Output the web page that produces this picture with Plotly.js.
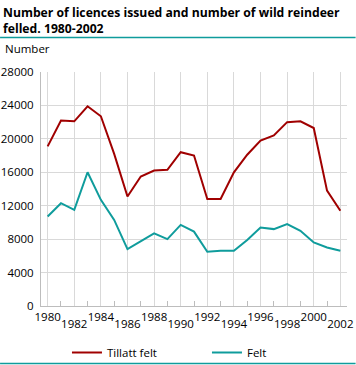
<!DOCTYPE html>
<html><head><meta charset="utf-8">
<script src="https://cdn.plot.ly/plotly-3.0.1.min.js"></script>
<style>html,body{margin:0;padding:0;background:#fff}#c{width:356px;height:365px}</style>
</head><body><div id="c"></div>
<script>
const years = [1980,1981,1982,1983,1984,1985,1986,1987,1988,1989,1990,1991,1992,1993,1994,1995,1996,1997,1998,1999,2000,2001,2002];
const tillattFelt = [19100,22200,22100,23900,22700,18200,13100,15500,16200,16300,18400,18000,12800,12800,16000,18100,19800,20400,22000,22100,21300,13800,11400];
const felt = [10700,12300,11500,16000,12700,10300,6800,7700,8700,8000,9700,8900,6500,6600,6600,7900,9400,9200,9800,9000,7600,7000,6600];
const upperTicks = [1980,1984,1988,1992,1996,2000];
const lowerTicks = [1982,1986,1990,1994,1998,2002];
const yTicks = [0,4000,8000,12000,16000,20000,24000,28000];

const F = '"Open Sans", "DejaVu Sans", sans-serif';
const grid = '#d9d9d9';
const xr = [1979.5, 2002.5];

const traces = [
  {x: years, y: tillattFelt, name: 'Tillatt felt', type: 'scatter', mode: 'lines',
   line: {color: '#a00000', width: 2}, xaxis: 'x', yaxis: 'y'},
  {x: years, y: felt, name: 'Felt', type: 'scatter', mode: 'lines',
   line: {color: '#0f9c9c', width: 2}, xaxis: 'x2', yaxis: 'y'}
];

const L = 41, R = 347.4, T = 72, B = 306;
const W = R - L, H = B - T;
const px = X => (X - L) / W;
const py = Y => (B - Y) / H;

const layout = {
  width: 356, height: 365,
  margin: {l: L, r: 356 - R, t: T, b: 365 - B, pad: 0, autoexpand: false},
  paper_bgcolor: '#fff', plot_bgcolor: '#fff',
  font: {family: F, size: 11, color: '#000'},
  xaxis: {range: xr, tickmode: 'array', tickvals: upperTicks, ticktext: upperTicks.map(String),
          showgrid: true, gridcolor: grid, gridwidth: 1, zeroline: false,
          showline: true, linecolor: '#bdbdbd', linewidth: 1, ticks: '', ticklabelstandoff: 0,
          tickfont: {family: F, size: 11.5},
          minor: {tickmode: 'array', tickvals: [1981,1983,1985,1987,1989,1991,1993,1995,1997,1999,2001],
                  ticks: 'inside', ticklen: 5, tickcolor: '#bdbdbd', showgrid: false}},
  xaxis2: {range: xr, overlaying: 'x', anchor: 'y', side: 'bottom', tickmode: 'array', tickvals: lowerTicks,
           ticktext: lowerTicks.map(String), showgrid: true, gridcolor: grid, gridwidth: 1, zeroline: false,
           showline: false, ticks: '', ticklabelstandoff: 9, tickfont: {family: F, size: 11.5}},
  yaxis: {range: [0, 28000], tickmode: 'array', tickvals: yTicks, ticktext: yTicks.map(String),
          showgrid: true, gridcolor: grid, gridwidth: 1, zeroline: false,
          showline: true, linecolor: '#bdbdbd', linewidth: 1, ticks: '', ticklabelstandoff: 4,
          tickfont: {family: F, size: 11.5}},
  showlegend: true,
  legend: {orientation: 'h', x: px(67), xanchor: 'left', y: py(338), yanchor: 'top',
           font: {family: F, size: 11.5}, entrywidth: 95, entrywidthmode: 'pixels',
           bgcolor: 'rgba(0,0,0,0)'},
  annotations: [
    {text: '<b>Number of licences issued and number of wild reindeer<br>felled. 1980-2002</b>',
     xref: 'paper', yref: 'paper', x: px(1), y: py(2), xanchor: 'left', yanchor: 'top', align: 'left',
     showarrow: false, font: {family: F, size: 12.2, color: '#000'}},
    {text: 'Number', xref: 'paper', yref: 'paper', x: px(3), y: py(49), xanchor: 'left', yanchor: 'middle',
     showarrow: false, font: {family: F, size: 11.5}}
  ],
  shapes: [
    {type: 'line', xref: 'paper', yref: 'paper', x0: px(0), x1: px(356), y0: py(37.5), y1: py(37.5),
     line: {color: '#0f9c9c', width: 1.5}},
    {type: 'line', xref: 'paper', yref: 'paper', x0: px(0), x1: px(356), y0: py(363.5), y1: py(363.5),
     line: {color: '#0f9c9c', width: 1.5}}
  ]
};

Plotly.newPlot('c', traces, layout, {displayModeBar: false, staticPlot: true});
</script></body></html>
